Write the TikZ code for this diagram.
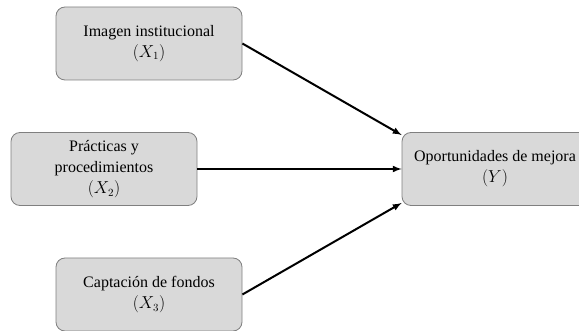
\documentclass[tikz,border=0pt]{standalone}
\usepackage{fontspec}
\setmainfont{Liberation Serif}
\usepackage{xcolor}
\usetikzlibrary{arrows, calc}

\definecolor{boxfill}{HTML}{D9D9D9}
\definecolor{boxline}{HTML}{7F7F7F}

\tikzset{
  varbox/.style={draw=boxline, fill=boxfill, line width=0.8pt, rounded corners=9pt,
    minimum width=186pt, minimum height=73pt, align=center,
    font=\fontsize{16}{21}\selectfont},
  link/.style={-latex, line width=2pt}
}

\begin{document}
\begin{tikzpicture}[x=1pt, y=-1pt]
\useasboundingbox (0,0) rectangle (579,331);
\clip (0,0) rectangle (579,331);

\node[varbox] (x1) at (149,43.5) {Imagen institucional\\$(X_1)$};
\node[varbox] (x2) at (104,169) {Prácticas y\\procedimientos\\$(X_2)$};
\node[varbox] (x3) at (149,294.5) {Captación de fondos\\$(X_3)$};
\node[varbox] (y) at (495,169) {Oportunidades de mejora\\$(Y)$};

\draw[link] (x1.east) -- (y.160);
\draw[link] (x2.east) -- (y.west);
\draw[link] (x3.east) -- (y.200);

\end{tikzpicture}
\end{document}
